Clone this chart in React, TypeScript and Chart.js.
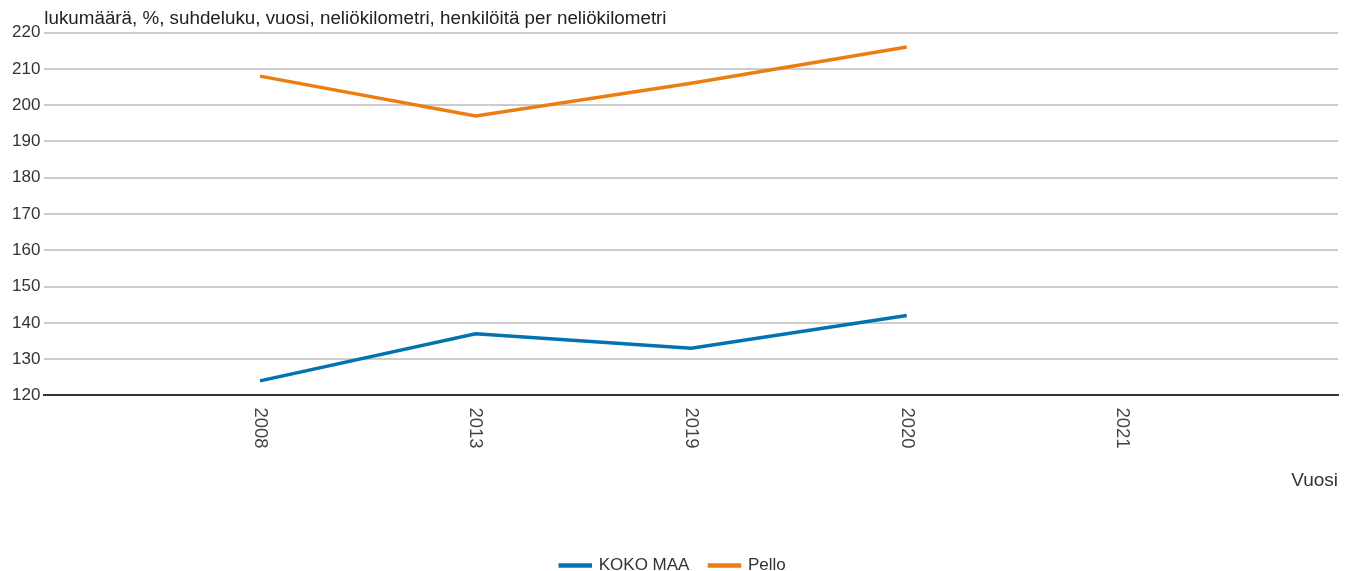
import React, { useEffect, useRef } from "react";
import { Chart, registerables } from "chart.js";

Chart.register(...registerables);

const years = ["2008", "2013", "2019", "2020", "2021"];
const kokoMaa = [124, 137, 133, 142, null];
const pello = [208, 197, 206, 216, null];
const yTicks = [120, 130, 140, 150, 160, 170, 180, 190, 200, 210, 220];

const FONT = "'Liberation Sans', Arial, sans-serif";
const TICK_SIZE = 17;
const X_TICK_SIZE = 18.5;

const downLabels = {
  id: "downLabels",
  afterDraw(chart: any) {
    const scale = chart.scales.x;
    const ctx = chart.ctx;
    ctx.save();
    ctx.fillStyle = "#444";
    ctx.font = `${X_TICK_SIZE}px ${FONT}`;
    ctx.textAlign = "left";
    ctx.textBaseline = "middle";
    years.forEach((label, i) => {
      const x = scale.getPixelForValue(i);
      ctx.save();
      ctx.translate(x, scale.top + 12);
      ctx.rotate(Math.PI / 2);
      ctx.fillText(label, 0, 0);
      ctx.restore();
    });
    ctx.restore();
  },
};

export default function App() {
  const ref = useRef<HTMLCanvasElement | null>(null);
  useEffect(() => {
    document.body.style.margin = "0";
    const ctx = ref.current!;
    const chart = new Chart(ctx, {
      type: "line",
      data: {
        datasets: [
          {
            label: "KOKO MAA",
            data: kokoMaa.map((v, i) => ({ x: i, y: v })) as any,
            borderColor: "#0073b0",
            backgroundColor: "#0073b0",
            borderWidth: 3.5,
            pointRadius: 0,
            tension: 0,
          },
          {
            label: "Pello",
            data: pello.map((v, i) => ({ x: i, y: v })) as any,
            borderColor: "#ee7d11",
            backgroundColor: "#ee7d11",
            borderWidth: 3.5,
            pointRadius: 0,
            tension: 0,
          },
        ],
      },
      plugins: [downLabels],
      options: {
        animation: false,
        responsive: false,
        maintainAspectRatio: false,
        layout: { padding: { left: 8, right: 13, top: 4, bottom: -13 } },
        plugins: {
          legend: {
            position: "bottom",
            labels: {
              boxWidth: 30,
              boxHeight: 1,
              color: "#333",
              font: { family: FONT, size: 17 },
              padding: 20,
            },
          },
          title: {
            display: true,
            text: "lukumäärä, %, suhdeluku, vuosi, neliökilometri, henkilöitä per neliökilometri",
            align: "start",
            fullSize: false,
            color: "#222",
            font: { family: FONT, size: 18.8, weight: "normal" },
            padding: { top: 4, bottom: 2 },
          },
          tooltip: { enabled: false },
        },
        scales: {
          x: {
            type: "linear",
            min: -1,
            max: years.length,
            afterBuildTicks: (axis: any) => {
              axis.ticks = years.map((_, i) => ({ value: i }));
            },
            ticks: {
              autoSkip: false,
              minRotation: 90,
              maxRotation: 90,
              color: "rgba(0,0,0,0)",
              font: { family: FONT, size: TICK_SIZE },
              padding: 6,
              callback: (v: any) => years[v as number] ?? "",
            },
            grid: { display: false, drawTicks: false },
            border: { display: true, color: "#333", width: 2 },
            title: {
              display: true,
              text: "Vuosi",
              align: "end",
              color: "#333",
              font: { family: FONT, size: 19 },
              padding: { top: 24, bottom: 45 },
            },
          },
          y: {
            min: 120,
            max: 220,
            afterBuildTicks: (axis: any) => {
              axis.ticks = yTicks.map((v) => ({ value: v }));
            },
            ticks: {
              color: "#333",
              font: { family: FONT, size: TICK_SIZE },
              padding: 4,
            },
            grid: { color: "#cccccc", lineWidth: 2, drawTicks: false },
            border: { display: false },
          },
        },
      },
    });
    return () => chart.destroy();
  }, []);
  return <canvas ref={ref} width={1351} height={571} style={{ display: "block" }} />;
}
